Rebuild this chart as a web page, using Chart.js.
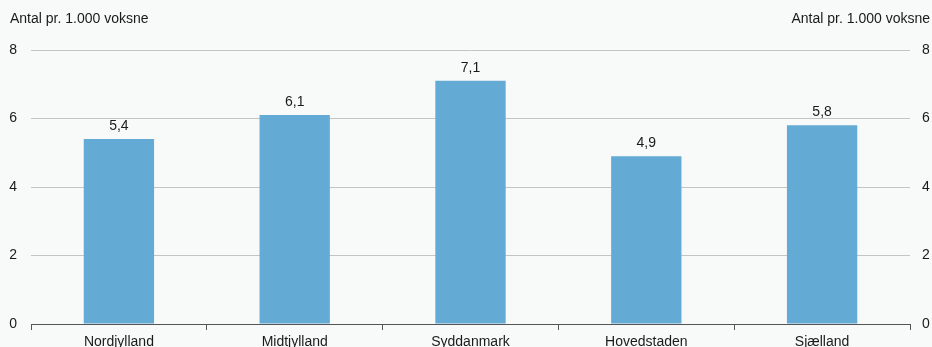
<!DOCTYPE html>
<html>
<head>
<meta charset="utf-8">
<script src="https://cdn.jsdelivr.net/npm/chart.js@4"></script>
<style>
  html, body { margin: 0; padding: 0; background: #f8f9f9; }
  #wrap { width: 932px; height: 347px; position: relative; }
</style>
</head>
<body>
<div id="wrap"><canvas id="chart"></canvas></div>
<script>
const regions = ["Nordjylland", "Midtjylland", "Syddanmark", "Hovedstaden", "Sjælland"];
const values = [5.4, 6.1, 7.1, 4.9, 5.8];
const yTicks = [0, 2, 4, 6, 8];
const axisTitle = "Antal pr. 1.000 voksne";

const FONT = "'Liberation Sans', Arial, sans-serif";
Chart.defaults.font.family = FONT;
Chart.defaults.font.size = 14;
Chart.defaults.color = "#1a1a1a";

// value labels above the bars + axis titles at the top corners
const labelsPlugin = {
  id: "labels",
  afterDatasetsDraw(chart) {
    const ctx = chart.ctx;
    const meta = chart.getDatasetMeta(0);
    ctx.save();
    ctx.font = "14px " + FONT;
    ctx.fillStyle = "#1a1a1a";
    ctx.textAlign = "center";
    ctx.textBaseline = "bottom";
    meta.data.forEach((bar, i) => {
      ctx.fillText(values[i].toFixed(1).replace(".", ","), bar.x, bar.y - 6);
    });
    ctx.textBaseline = "middle";
    ctx.textAlign = "left";
    ctx.fillText(axisTitle, 10, 19);
    ctx.textAlign = "right";
    ctx.fillText(axisTitle, chart.width - 2, 19);
    ctx.restore();
  }
};

const yTickOpts = {
  padding: 14,
  autoSkip: false,
  callback: (v) => v
};

new Chart(document.getElementById("chart"), {
  type: "bar",
  data: {
    labels: regions,
    datasets: [{
      data: values,
      backgroundColor: "#63aad5",
      barPercentage: 0.4,
      categoryPercentage: 1.0
    }]
  },
  options: {
    responsive: true,
    maintainAspectRatio: false,
    animation: false,
    layout: { padding: { top: 50, bottom: 0 } },
    plugins: { legend: { display: false }, tooltip: { enabled: false } },
    scales: {
      x: {
        afterFit: (s) => { s.height = 23; },
        grid: { offset: true, drawOnChartArea: false, drawTicks: true, tickLength: 6, color: "#555" },
        border: { display: true, color: "#555", width: 1 },
        ticks: { padding: 4, maxRotation: 0 }
      },
      y: {
        position: "left",
        min: 0, max: 8,
        afterBuildTicks: (s) => { s.ticks = yTicks.map(v => ({ value: v })); },
        afterFit: (s) => { s.width = 31; },
        grid: { color: "#c4c4c4", drawTicks: false },
        border: { display: false },
        ticks: Object.assign({}, yTickOpts, { align: "center" })
      },
      y2: {
        position: "right",
        min: 0, max: 8,
        afterBuildTicks: (s) => { s.ticks = yTicks.map(v => ({ value: v })); },
        afterFit: (s) => { s.width = 22; },
        grid: { display: false, drawTicks: false },
        border: { display: false },
        ticks: Object.assign({}, yTickOpts, { padding: 12 })
      }
    }
  },
  plugins: [labelsPlugin]
});
</script>
</body>
</html>
